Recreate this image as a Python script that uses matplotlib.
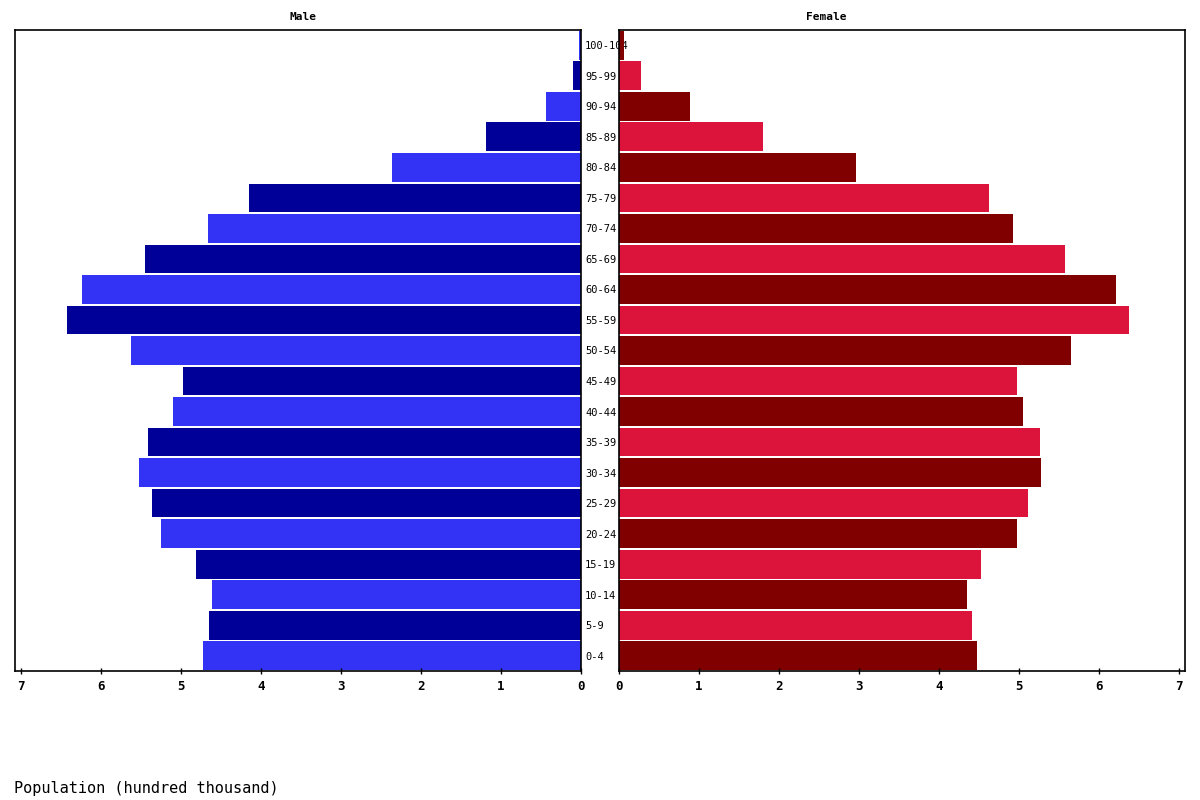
import matplotlib
matplotlib.use("Agg")
import matplotlib.pyplot as plt

# age groups, bottom to top
age_groups = ['0-4', '5-9', '10-14', '15-19', '20-24', '25-29', '30-34',
              '35-39', '40-44', '45-49', '50-54', '55-59', '60-64', '65-69',
              '70-74', '75-79', '80-84', '85-89', '90-94', '95-99', '100-104']

# population in hundred thousand
male = [4.72, 4.65, 4.61, 4.81, 5.25, 5.36, 5.525, 5.41, 5.10, 4.975, 5.625,
        6.425, 6.24, 5.45, 4.66, 4.15, 2.36, 1.19, 0.44, 0.10, 0.025]
female = [4.48, 4.41, 4.35, 4.53, 4.98, 5.11, 5.28, 5.26, 5.05, 4.98, 5.65,
          6.38, 6.21, 5.57, 4.92, 4.63, 2.96, 1.80, 0.89, 0.27, 0.06]

ticks = [0, 1, 2, 3, 4, 5, 6, 7]

mono = 'DejaVu Sans Mono'
plt.rcParams['font.family'] = mono

fig = plt.figure(figsize=(12, 8), dpi=100)
W, H = 1200.0, 800.0
bottom = (H - 671) / H
height = 641 / H
ax_m = fig.add_axes([15 / W, bottom, 566 / W, height])
ax_f = fig.add_axes([619 / W, bottom, 566 / W, height])
# let the long age label show through the female panel background
ax_f.patch.set_visible(False)

male_colors = ['#3333f5' if i % 2 == 0 else '#000099' for i in range(len(age_groups))]
female_colors = ['#800000' if i % 2 == 0 else '#dc143c' for i in range(len(age_groups))]

pos = range(len(age_groups))
ax_m.barh(pos, male, height=0.94, color=male_colors)
ax_f.barh(pos, female, height=0.94, color=female_colors)

xmax = 566 / 80.0
ax_m.set_xlim(xmax, 0)
ax_f.set_xlim(0, xmax)
for ax in (ax_m, ax_f):
    ax.set_ylim(-0.5, len(age_groups) - 0.5)
    ax.set_xticks(ticks)
    ax.set_xticklabels([str(t) for t in ticks], fontsize=9, fontweight='bold')
    ax.tick_params(axis='x', direction='inout', length=5, width=1, pad=4)
    for sp in ax.spines.values():
        sp.set_linewidth(1.2)

# age labels sit in the gap between the two panels
ax_m.yaxis.tick_right()
ax_m.set_yticks(list(pos))
ax_m.set_yticklabels(age_groups, fontsize=7.5)
ax_m.tick_params(axis='y', length=0, pad=3)
ax_f.set_yticks([])

fig.text(303 / W, (H - 17) / H, 'Male', fontsize=8, fontweight='bold',
         ha='center', va='center')
fig.text(826 / W, (H - 17) / H, 'Female', fontsize=8, fontweight='bold',
         ha='center', va='center')

fig.text(14 / W, (H - 788) / H, 'Population (hundred thousand)', fontsize=11,
         va='center', ha='left')

fig.savefig('out.png', dpi=100)
